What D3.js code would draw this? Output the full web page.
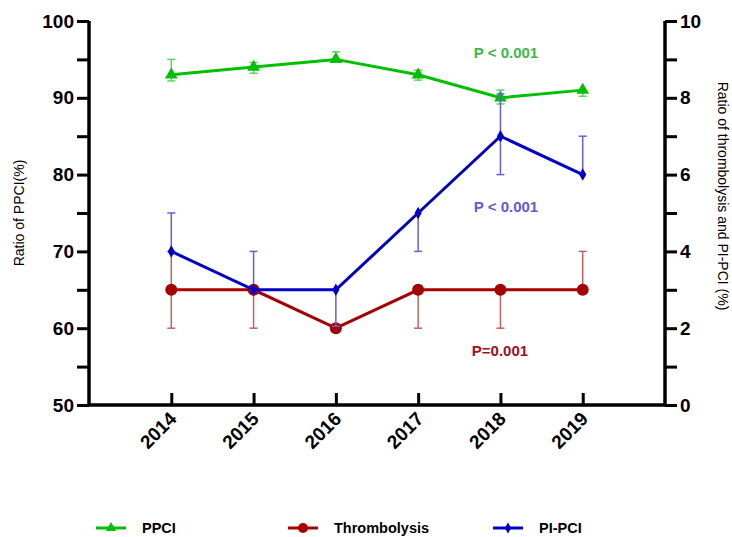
<!DOCTYPE html>
<html>
<head>
<meta http-equiv="Content-type" content="text/html; charset=utf-8">
<title>PPCI trend</title>
<script src="https://cdn.jsdelivr.net/npm/d3@7"></script>
<style>
  body { margin: 0; background: #fff; }
  text { font-family: Arial, "Liberation Sans", sans-serif; }
</style>
</head>
<body>
<script>
// data
var years = [2014, 2015, 2016, 2017, 2018, 2019];

var ppci     = [93, 94, 95, 93, 90, 91];
var ppciLo   = [92.2, 93.2, 95, 92.3, 89.2, 90.2];
var ppciHi   = [95, 94.6, 96, 93.6, 91, 91];

var thromb   = [3, 3, 2, 3, 3, 3];
var thrombLo = [2, 2, 2, 2, 2, 3];
var thrombHi = [4, 3, 2, 3, 3, 4];

var pipci    = [4, 3, 3, 5, 7, 6];
var pipciLo  = [4, 3, 2.05, 4, 6, 6];
var pipciHi  = [5, 4, 3, 5, 8.1, 7];

var leftTicks  = [50, 60, 70, 80, 90, 100];
var rightTicks = [0, 2, 4, 6, 8, 10];

var W = 732, H = 537;
var x0 = 89, x1 = 665, yTop = 21, yBot = 405;

var svg = d3.select("body").append("svg").attr("width", W).attr("height", H);

var x  = d3.scaleLinear().domain([2013, 2020]).range([x0, x1]);
var yL = d3.scaleLinear().domain([50, 100]).range([yBot, yTop]);
var yR = d3.scaleLinear().domain([0, 10]).range([yBot, yTop]);

// axes
var axL = svg.append("g").attr("transform", "translate(" + x0 + ",0)")
  .call(d3.axisLeft(yL).tickValues(d3.range(50, 101, 5)).tickSize(12).tickPadding(3)
    .tickFormat(function(d){ return leftTicks.indexOf(d) >= 0 ? d : ""; }));
var axR = svg.append("g").attr("transform", "translate(" + x1 + ",0)")
  .call(d3.axisRight(yR).tickValues(d3.range(0, 11, 1)).tickSize(12).tickPadding(3)
    .tickFormat(function(d){ return rightTicks.indexOf(d) >= 0 ? d : ""; }));
var axB = svg.append("g").attr("transform", "translate(0," + yBot + ")")
  .call(d3.axisBottom(x).tickValues(years).tickSize(-12).tickFormat(d3.format("d")));

[axL, axR, axB].forEach(function(a){
  a.select(".domain").attr("stroke", "#000").attr("stroke-width", 3.5);
  a.selectAll(".tick line").attr("stroke", "#000").attr("stroke-width", 3);
  a.selectAll("text").attr("font-size", 19).attr("font-weight", "bold").attr("fill", "#000")
    .attr("font-family", "Arial, 'Liberation Sans', sans-serif");
});
axL.select(".domain").attr("d", "M0," + yTop + "V" + yBot);
axR.select(".domain").attr("d", "M0," + yTop + "V" + yBot);
axB.select(".domain").attr("d", "M" + x0 + ",0H" + x1);
axB.selectAll(".tick text")
  .attr("text-anchor", "end").attr("dy", 0)
  .attr("transform", "translate(6,15) rotate(-45)").attr("y", 0).attr("x", 0);

// axis titles
svg.append("text").attr("transform", "translate(24,213) rotate(-90)")
  .attr("text-anchor", "middle").attr("font-size", 14).text("Ratio of PPCI(%)");
svg.append("text").attr("transform", "translate(718,196) rotate(90)")
  .attr("text-anchor", "middle").attr("font-size", 14).text("Ratio of thrombolysis and PI-PCI (%)");

var series = [
  { vals: ppci,   lo: ppciLo,   hi: ppciHi,   y: yL, color: "#00c000", bar: "#55d855", shape: "tri" },
  { vals: thromb, lo: thrombLo, hi: thrombHi, y: yR, color: "#a80000", bar: "#c86060", shape: "circ" },
  { vals: pipci,  lo: pipciLo,  hi: pipciHi,  y: yR, color: "#0000cc", bar: "#6060e0", shape: "dia" }
];

function marker(g, shape, color) {
  if (shape === "tri") g.append("path").attr("d", d3.symbol(d3.symbolTriangle, 70)()).attr("fill", color);
  else if (shape === "circ") g.append("circle").attr("r", 6).attr("fill", color);
  else g.append("path").attr("d", d3.symbol(d3.symbolDiamond, 45)()).attr("fill", color);
}

series.forEach(function(s){
  var g = svg.append("g");
  // error bars
  years.forEach(function(yr, i){
    var cx = x(yr);
    [[s.vals[i], s.hi[i]], [s.vals[i], s.lo[i]]].forEach(function(p){
      if (p[0] === p[1]) return;
      g.append("line").attr("x1", cx).attr("x2", cx).attr("y1", s.y(p[0])).attr("y2", s.y(p[1]))
        .attr("stroke", s.bar).attr("stroke-width", 1.5);
      g.append("line").attr("x1", cx - 4).attr("x2", cx + 4).attr("y1", s.y(p[1])).attr("y2", s.y(p[1]))
        .attr("stroke", s.bar).attr("stroke-width", 1.5);
    });
  });
  var line = d3.line().x(function(d, i){ return x(years[i]); }).y(function(d){ return s.y(d); });
  g.append("path").datum(s.vals).attr("d", line).attr("fill", "none")
    .attr("stroke", s.color).attr("stroke-width", 3);
  s.vals.forEach(function(v, i){
    var m = g.append("g").attr("transform", "translate(" + x(years[i]) + "," + s.y(v) + ")");
    marker(m, s.shape, s.color);
  });
});

// p values
svg.append("text").attr("x", 506).attr("y", 58).attr("text-anchor", "middle")
  .attr("font-size", 15).attr("font-weight", "bold").attr("fill", "#3cb94a").text("P < 0.001");
svg.append("text").attr("x", 506).attr("y", 212).attr("text-anchor", "middle")
  .attr("font-size", 15).attr("font-weight", "bold").attr("fill", "#5b5be0").text("P < 0.001");
svg.append("text").attr("x", 500).attr("y", 356).attr("text-anchor", "middle")
  .attr("font-size", 15).attr("font-weight", "bold").attr("fill", "#a0101c").text("P=0.001");

// legend
var legendNames = ["PPCI", "Thrombolysis", "PI-PCI"];
var legendX = [96, 288, 493];
legendNames.forEach(function(name, i){
  var s = series[i];
  var g = svg.append("g").attr("transform", "translate(" + legendX[i] + ",528)");
  g.append("line").attr("x1", 0).attr("x2", 30).attr("stroke", s.color).attr("stroke-width", 3);
  var m = g.append("g").attr("transform", "translate(15,0)");
  if (s.shape === "tri") m.append("path").attr("d", d3.symbol(d3.symbolTriangle, 45)()).attr("fill", s.color);
  else if (s.shape === "circ") m.append("circle").attr("r", 5).attr("fill", s.color);
  else m.append("path").attr("d", d3.symbol(d3.symbolDiamond, 35)()).attr("fill", s.color);
  g.append("text").attr("x", 46).attr("y", 5).attr("font-size", 14.5).attr("font-weight", "bold").text(name);
});
</script>
</body>
</html>
